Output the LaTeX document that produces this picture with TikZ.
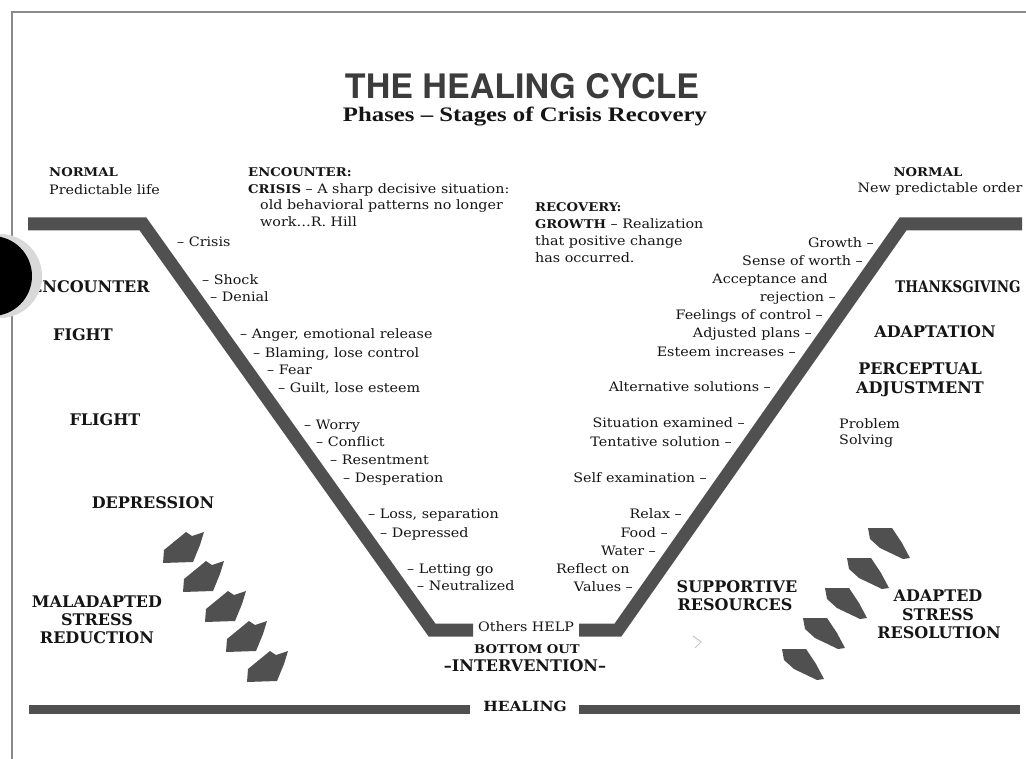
\documentclass[tikz,border=0pt]{standalone}
\usepackage{fontspec}
\usepackage{graphicx}
\newfontfamily\bodyf{DejaVu Serif}[FakeStretch=1.1]
\newfontfamily\labf{DejaVu Serif}
\newfontfamily\titlef{TeX Gyre Heros}
\newfontfamily\subf{Liberation Serif}
\definecolor{ink}{HTML}{505050}
\definecolor{titlec}{HTML}{3C3C3C}
\definecolor{txt}{HTML}{151515}
\definecolor{framec}{HTML}{8A8A8A}
\tikzset{
  body/.style={font=\bodyf\fontsize{13}{15}\selectfont, text=txt, inner sep=0pt, text height=9.5pt, text depth=0pt},
  bl/.style={body, anchor=west},
  br/.style={body, anchor=east},
  hd/.style={font=\bodyf\bfseries\fontsize{12}{14}\selectfont, text=txt, inner sep=0pt, text height=9pt, text depth=0pt},
  lab/.style={font=\labf\bfseries\fontsize{16}{18}\selectfont, text=txt, inner sep=0pt, text height=12pt, text depth=0pt},
  vline/.style={draw=ink, line width=13pt, line join=miter},
  hbar/.style={draw=ink, line width=9pt},
  larrow/.style={fill=ink, draw=none},
}
\begin{document}
\begin{tikzpicture}[x=1pt,y=-1pt]
\useasboundingbox (0,0) rectangle (1026,759);
\fill[white] (0,0) rectangle (1026,759);
% frame
\draw[framec, line width=1.6pt] (12,759) -- (12,12) -- (1026,12);

% title
\node[text=titlec, inner sep=0pt] (title) at (522,86) {\resizebox{354pt}{25pt}{\titlef\bfseries THE HEALING CYCLE}};
\node[text=txt, inner sep=0pt, anchor=base] (subtitle) at (525,122) {\resizebox{364pt}{14.5pt}{\subf\bfseries Phases – Stages of Crisis Recovery}};

% main V path
\draw[vline] (28,224) -- (143,224) -- (432,630) -- (473,630);
\draw[vline] (579,630) -- (618,630) -- (903,224) -- (1022,224);

% healing bar
\draw[hbar] (29,709) -- (470,709);
\draw[hbar] (579,709) -- (1020,709);
\node[hd, font=\bodyf\bfseries\fontsize{14}{16}\selectfont, text height=10pt] (healing) at (525,706) {HEALING};

% top-left texts
\node[hd, anchor=west] (normL) at (49,172) {NORMAL};
\node[bl] (predL) at (49,190) {Predictable life};
\node[hd, anchor=west] (enc) at (248,172) {ENCOUNTER:};
\node[bl] (cris) at (248,189) {{\bfseries\fontsize{12}{14}\selectfont CRISIS} – A sharp decisive situation:};
\node[bl] (old) at (260,205) {old behavioral patterns no longer};
\node[bl] (work) at (260,222) {work…R. Hill};

% recovery texts
\node[hd, anchor=west] (rec) at (535,207) {RECOVERY:};
\node[bl] (grow) at (535,224) {{\bfseries\fontsize{12}{14}\selectfont GROWTH} – Realization};
\node[bl] (pos) at (535,241) {that positive change};
\node[bl] (occ) at (535,258) {has occurred.};

% top-right
\node[hd] (normR) at (928,172) {NORMAL};
\node[body] (newp) at (940,188) {New predictable order};

% left stage list
\node[bl] (l1) at (177,242) {– Crisis};
\node[bl] (l2) at (202,280) {– Shock};
\node[bl] (l3) at (210,297) {– Denial};
\node[bl] (l4) at (240,334) {– Anger, emotional release};
\node[bl] (l5) at (253,353) {– Blaming, lose control};
\node[bl] (l6) at (267,370) {– Fear};
\node[bl] (l7) at (278,388) {– Guilt, lose esteem};
\node[bl] (l8) at (304,425) {– Worry};
\node[bl] (l9) at (316,442) {– Conflict};
\node[bl] (l10) at (330,460) {– Resentment};
\node[bl] (l11) at (343,478) {– Desperation};
\node[bl] (l12) at (368,514) {– Loss, separation};
\node[bl] (l13) at (380,533) {– Depressed};
\node[bl] (l14) at (407,569) {– Letting go};
\node[bl] (l15) at (417,586) {– Neutralized};

% right stage list
\node[br] (r1) at (874,243) {Growth –};
\node[br] (r2) at (863,261) {Sense of worth –};
\node[br] (r3) at (828,279) {Acceptance and};
\node[br] (r4) at (836,297) {rejection –};
\node[br] (r5) at (823,315) {Feelings of control –};
\node[br] (r6) at (812,333) {Adjusted plans –};
\node[br] (r7) at (796,352) {Esteem increases –};
\node[br] (r8) at (771,387) {Alternative solutions –};
\node[br] (r9) at (745,423) {Situation examined –};
\node[br] (r10) at (732,442) {Tentative solution –};
\node[br] (r11) at (707,478) {Self examination –};
\node[br] (r12) at (682,514) {Relax –};
\node[br] (r13) at (668,533) {Food –};
\node[br] (r14) at (656,551) {Water –};
\node[bl] (r15) at (556,569) {Reflect on};
\node[br] (r16) at (633,587) {Values –};

% bottom centre
\node[body] (help) at (526,627) {Others HELP};
\node[hd] (bott) at (527,649) {BOTTOM OUT};
\node[lab] (interv) at (525,665) {–INTERVENTION–};

% left big labels
\node[lab, anchor=west] (encL) at (30,287) {ENCOUNTER};
\node[lab] (fight) at (83,335) {FIGHT};
\node[lab] (flight) at (105,419) {FLIGHT};
\node[lab] (depr) at (153,502) {DEPRESSION};
\node[lab] (mal1) at (97,601) {MALADAPTED};
\node[lab] (mal2) at (97,619) {STRESS};
\node[lab] (mal3) at (97,637) {REDUCTION};

% right big labels
\node[lab] (thanks) at (958,287) {\scalebox{0.84}[1]{THANKSGIVING}};
\node[lab] (adapt) at (935,332) {ADAPTATION};
\node[lab] (perc1) at (920,369) {PERCEPTUAL};
\node[lab] (perc2) at (920,387) {ADJUSTMENT};
\node[bl] (prob1) at (839,424) {Problem};
\node[bl] (prob2) at (839,440) {Solving};
\node[lab] (sup1) at (737,586) {SUPPORTIVE};
\node[lab] (sup2) at (735,604) {RESOURCES};
\node[lab] (ad1) at (938,595) {ADAPTED};
\node[lab] (ad2) at (938,614) {STRESS};
\node[lab] (ad3) at (939,632) {RESOLUTION};

% left arrows
\foreach \bx/\by in {163/563, 183/592, 205/622, 226/652, 247/682}{
  \fill[larrow, shift={(\bx,\by)}] (0,0) -- (1,-13) -- (23,-31) -- (29,-27) -- (41,-31) -- (37,-18) -- (30,-1) -- cycle;
}
% right arrows
\foreach \tx/\ty in {868/528, 847/558, 825/588, 803/618, 782/649}{
  \fill[larrow, shift={(\tx,\ty)}] (0,0) -- (24,0) -- (34,15) -- (42,30) -- (35,31) -- (12,20) -- (2,11) -- cycle;
}

% faint mark
\draw[gray!45, line width=1pt] (693,636) -- (701,642) -- (695,648);

% punched hole
\fill[gray!30] (0,276) circle[radius=42];
\fill[black] (-8,276) circle[radius=40];
\end{tikzpicture}
\end{document}
